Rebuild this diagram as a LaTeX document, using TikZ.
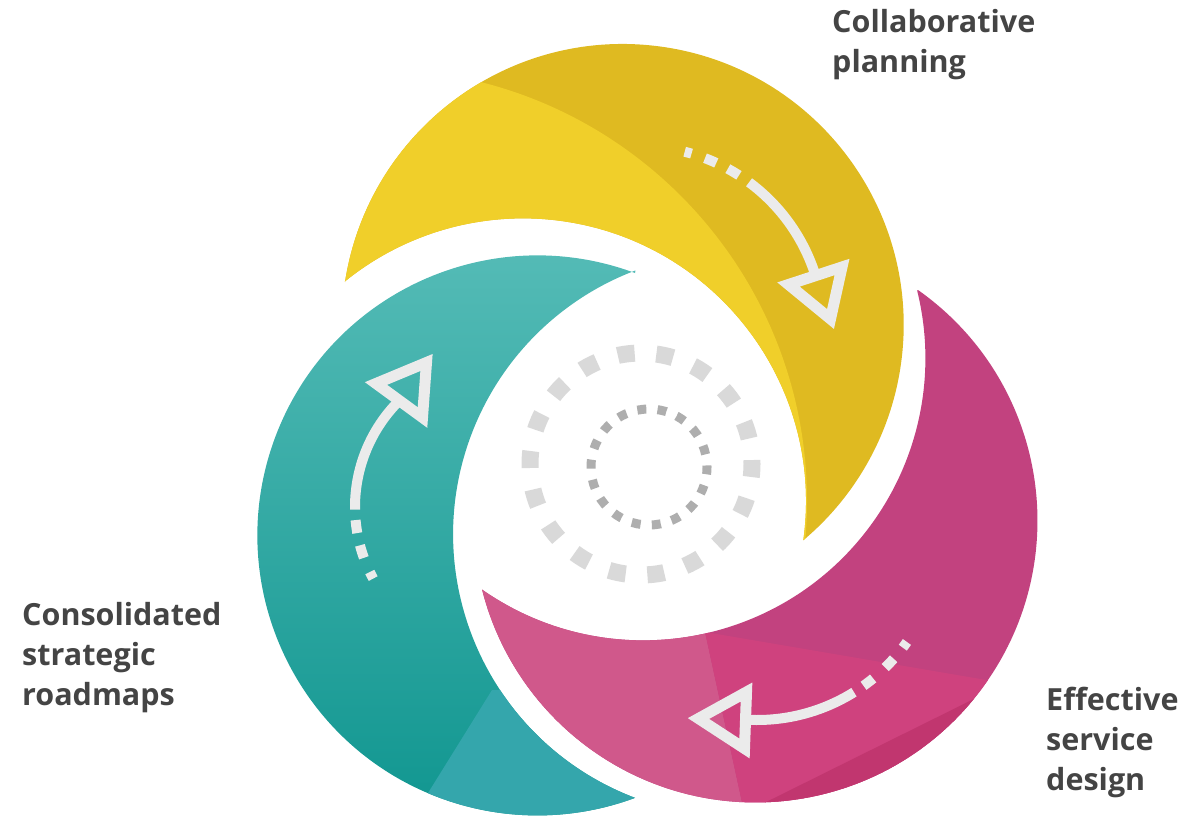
\documentclass[tikz,border=0pt]{standalone}
\usepackage{fontspec}
\setmainfont{Open Sans}
\usepackage{tikz}

\definecolor{yelDark}{RGB}{223,186,33}
\definecolor{yelLight}{RGB}{240,207,42}
\definecolor{tealTop}{RGB}{84,187,182}
\definecolor{tealBot}{RGB}{16,150,144}
\definecolor{tealFacet}{RGB}{52,166,172}
\definecolor{magBase}{RGB}{194,66,127}
\definecolor{magLight}{RGB}{208,88,139}
\definecolor{magHot}{RGB}{207,66,126}
\definecolor{magDeep}{RGB}{193,54,111}
\definecolor{arrowGray}{RGB}{235,235,235}
\definecolor{ringLight}{RGB}{217,217,217}
\definecolor{ringDark}{RGB}{174,174,174}
\definecolor{labelGray}{RGB}{68,68,68}

\begin{document}
\begin{tikzpicture}[x=1pt,y=-1pt,
  lbl/.style={anchor=north west,inner sep=0pt,align=left,text=labelGray,
    font=\fontsize{30.5}{40}\selectfont\bfseries},
  flow/.style={draw=arrowGray,line width=10pt,line cap=butt},
  tiphead/.style={draw=arrowGray,line width=11pt,line join=miter}]

  \useasboundingbox (0,0) rectangle (1198,820);

  % Crescent outlines
  \path[save path=\yelpath] (345,282)
    arc[start angle=188.8,end angle=410,radius=281]
    arc[start angle=7.9,end angle=-129,radius=283] -- cycle;
  \path[save path=\tealpath] (635,273)
    arc[start angle=290.4,end angle=69.6,radius=280]
    arc[start angle=110.8,end angle=249.3,radius=282] -- cycle;
  \path[save path=\magpath] (918,290)
    arc[start angle=-54.8,end angle=165.8,radius=282]
    arc[start angle=124.9,end angle=-13.9,radius=282] -- cycle;

  % Yellow: collaborative planning
  \fill[yelDark,use path=\yelpath];
  \begin{scope}
    \clip[use path=\yelpath];
    \fill[yelLight] (375,501) circle (432);
  \end{scope}

  % Teal: strategic roadmaps
  \begin{scope}
    \clip[use path=\tealpath];
    \shade[top color=tealTop,bottom color=tealBot] (250,250) rectangle (640,820);
    \fill[tealFacet] (405,830) -- (492,690) -- (700,690) -- (700,830) -- cycle;
  \end{scope}

  % Magenta: service design
  \fill[magBase,use path=\magpath];
  \begin{scope}
    \clip[use path=\magpath];
    \fill[magLight] (470,575) -- (705,632) -- (748,830) -- (470,830) -- cycle;
    \fill[magHot] (705,632) -- (1045,690) -- (1045,830) -- (748,830) -- cycle;
    \fill[magDeep] (746,812) -- (1008,682) -- (1045,682) -- (1045,830) -- (746,830) -- cycle;
  \end{scope}

  % Rings in the middle
  \draw[ringLight,line width=17pt,dash pattern=on 17pt off 21.75pt,dash phase=4pt]
    (641,464) circle (111);
  \draw[ringDark,line width=9pt,dash pattern=on 9pt off 11.25pt,dash phase=1.7pt]
    (649,467) circle (58);

  % Arrow on yellow
  \begin{scope}[shift={(639,331)}]
    \foreach \a/\b in {-75.7/-73.5,-69.1/-65.3,-61.3/-57.3}
      \draw[flow] (\a:185) arc[start angle=\a,end angle=\b,radius=185];
    \draw[flow] (-53.5:185) arc[start angle=-53.5,end angle=-17.5,radius=185];
  \end{scope}
  \draw[tiphead] (788.5,284.5) -- (842,267) -- (830.5,319) -- cycle;

  % Arrow on teal
  \begin{scope}[shift={(505,507)}]
    \foreach \a/\b in {151.5/154.3,160.2/165.2,170/175}
      \draw[flow] (\a:150) arc[start angle=\a,end angle=\b,radius=150];
    \draw[flow] (179:150) arc[start angle=179,end angle=225.1,radius=150];
  \end{scope}
  \draw[tiphead] (376,383.5) -- (426.5,362.5) -- (422.5,417.5) -- cycle;

  % Arrow on magenta
  \begin{scope}[shift={(757,537)}]
    \foreach \a/\b in {35/37.2,41.7/45.5,50.6/54.4}
      \draw[flow] (\a:183) arc[start angle=\a,end angle=\b,radius=183];
    \draw[flow] (58:183) arc[start angle=58,end angle=93.6,radius=183];
  \end{scope}
  \draw[tiphead] (698.5,718.5) -- (746.5,692) -- (744.5,748.5) -- cycle;

  % Labels
  \node[lbl] (collab) at (832,9) {Collaborative\\planning};
  \node[lbl] (service) at (1046,687) {Effective\\service\\design};
  \node[lbl] (roadmap) at (22,602) {Consolidated\\strategic\\roadmaps};
\end{tikzpicture}
\end{document}
